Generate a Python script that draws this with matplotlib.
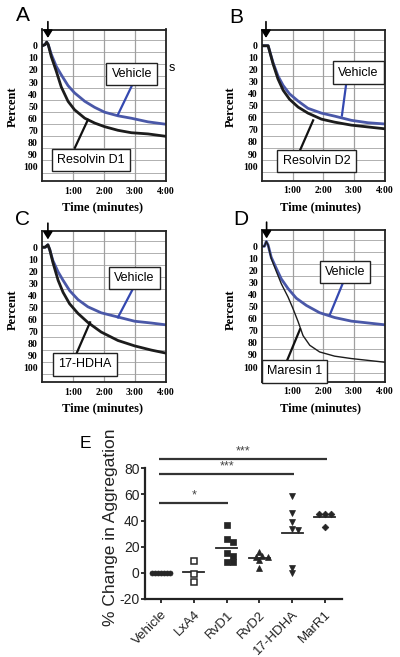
import numpy as np
import matplotlib
matplotlib.use("Agg")
import matplotlib.pyplot as plt

# ---------------- data: aggregation traces (time in minutes, percent) -------------
t_A_veh = [0.0, 0.1, 0.15, 0.2, 0.3, 0.46, 0.62, 0.84, 1.05, 1.38, 1.7, 2.02, 2.45, 2.88, 3.42, 4.0]
A_veh = [0, -1, -3, -1, 7, 17, 24, 33, 39, 46, 51, 55, 58, 60, 63, 65]
t_A_drug = [0.0, 0.1, 0.15, 0.2, 0.3, 0.46, 0.62, 0.84, 1.05, 1.38, 1.7, 2.02, 2.45, 2.88, 3.42, 4.0]
A_drug = [0, -1, -3, -1, 9, 21, 34, 46, 53, 60, 64, 67, 70, 72, 73, 75]

t_B_veh = [0.0, 0.2, 0.36, 0.52, 0.69, 0.9, 1.18, 1.5, 1.94, 2.37, 2.92, 3.46, 4.0]
B_veh = [0, 0, 14, 25, 33, 40, 46, 52, 56, 58.5, 62, 64, 65]
t_B_drug = [0.0, 0.2, 0.36, 0.52, 0.69, 0.9, 1.18, 1.5, 1.94, 2.37, 2.92, 3.46, 4.0]
B_drug = [0, 0, 15, 27.5, 37, 44.5, 51, 56, 61, 63.5, 66, 67.5, 69]

t_C_veh = [0.0, 0.1, 0.19, 0.25, 0.35, 0.52, 0.68, 0.89, 1.16, 1.48, 1.91, 2.45, 2.99, 3.53, 4.0]
C_veh = [0, 0, -2, 2, 11, 20.5, 27.5, 36, 43.5, 49.5, 54.5, 58, 61.5, 63, 64.5]
t_C_drug = [0.0, 0.1, 0.19, 0.25, 0.35, 0.52, 0.68, 0.89, 1.16, 1.48, 1.91, 2.45, 2.99, 3.53, 4.0]
C_drug = [0, 0, -2, 2, 12.5, 27.5, 37.5, 47, 55, 62.5, 70.5, 77.5, 82, 85.5, 88]

t_D_veh = [0.0, 0.08, 0.14, 0.2, 0.3, 0.47, 0.63, 0.85, 1.12, 1.45, 1.88, 2.37, 2.92, 3.46, 4.0]
D_veh = [0, 0, -4, -1, 9, 18.5, 27, 35, 43, 49, 55, 59, 62, 63.5, 65]
t_D_drug = [0.0, 0.08, 0.14, 0.2, 0.3, 0.47, 0.63, 0.85, 1.01, 1.18, 1.34, 1.56, 1.88, 2.37, 2.92, 3.46, 4.0]
D_drug = [0, 0, -4, -1, 10, 21, 31, 42, 51.5, 62.5, 74, 82, 87.5, 91, 93, 94.5, 96]

panel_letters = ["A", "B", "C", "D"]
drug_names = ["Resolvin D1", "Resolvin D2", "17-HDHA", "Maresin 1"]
ytick_vals = list(range(0, 101, 10))
xtick_vals = [1, 2, 3, 4]
xtick_labels = ["1:00", "2:00", "3:00", "4:00"]

# ---------------- data: panel E -------------
categories = ["Vehicle", "LxA4", "RvD1", "RvD2", "17-HDHA", "MarR1"]
vals_vehicle = [0, 0, 0, 0, 0, 0, 0]
vals_lxa4 = [9.3, -1.2, -6.8]
vals_rvd1 = [36.5, 25.6, 23.8, 14.9, 12.8, 8.5, 8.5]
vals_rvd2 = [16.1, 12.8, 12.5, 12.2, 9.8, 3.4]
vals_17hdha = [58.6, 45.9, 39.0, 33.4, 32.7, 3.9, 0.0]
vals_marr1 = [45.0, 45.0, 45.0, 34.7]
sig_start = [0, 0, 0]
sig_end = [5, 4, 2]
sig_y = [87.4, 75.4, 53.5]
sig_text = ["***", "***", "*"]

# ---------------- figure -------------
W, H = 400, 657
fig = plt.figure(figsize=(W / 100, H / 100), dpi=100)
fig.patch.set_facecolor("white")


def fbox(l, t, w, h):
    return [l / W, 1 - (t + h) / H, w / W, h / H]


SERIF = ["Liberation Serif", "DejaVu Serif"]
SANS = ["Liberation Sans", "DejaVu Sans"]
BLUE = "#4a58a8"
BLACK = "#1c1c1c"

boxes = [fbox(42, 29.5, 124, 151.5), fbox(262, 29.5, 122.5, 151),
         fbox(42, 231, 124, 151), fbox(262, 230, 122.5, 151.5)]
traces = [(t_A_veh, A_veh, t_A_drug, A_drug), (t_B_veh, B_veh, t_B_drug, B_drug),
          (t_C_veh, C_veh, t_C_drug, C_drug), (t_D_veh, D_veh, t_D_drug, D_drug)]
# layout (in data coords of each panel)
veh_box_xy = [(2.9, 23.2), (3.14, 22.4), (2.98, 25.5), (2.71, 21.1)]
drug_box_xy = [(1.58, 94.5), (1.78, 96.0), (1.39, 97.3), (1.06, 103.6)]
veh_ptr = [((2.9, 33), (2.45, 57)), ((2.75, 31.5), (2.61, 58)),
           ((2.94, 34.2), (2.45, 58.3)), ((2.65, 29.9), (2.22, 56.4))]
drug_ptr = [((1.06, 84.5), (1.48, 61.3)), ((1.24, 87), (1.67, 62)),
            ((1.13, 87.3), (1.55, 62.4)), ((0.82, 94.5), (1.24, 68.8))]
arrow_t = [0.19, 0.13, 0.19, 0.15]
letter_px = [(23, 15.5), (236, 17.5), (23, 219.5), (241, 219.5)]
percent_px = [(13, 107), (231, 107), (13, 310), (231, 310)]
time_px = [(102, 207), (321, 207), (102, 408), (321, 408)]
drug_lw = [2.0, 2.0, 2.0, 1.0]

for i in range(4):
    ax = fig.add_axes(boxes[i])
    tv, yv, td, yd = traces[i]
    ax.set_xlim(0, 4)
    ax.set_ylim(112, -13.5)
    for g in range(-5, 110, 10):
        ax.axhline(g, color="#b0b0b0", lw=0.7, zorder=0)
    for g in [1, 2, 3]:
        ax.axvline(g, color="#a0a0a0", lw=0.9, zorder=0)
    ax.plot(tv, yv, color=BLUE, lw=2.0, zorder=2)
    ax.plot(td, yd, color=BLACK, lw=drug_lw[i], zorder=3)
    ax.set_yticks(ytick_vals)
    ax.set_yticklabels([str(v) for v in ytick_vals], family=SERIF, weight="bold", fontsize=7)
    ax.set_xticks(xtick_vals)
    ax.set_xticklabels(xtick_labels, family=SERIF, weight="bold", fontsize=7)
    ax.tick_params(length=0, pad=3)
    ax.tick_params(axis="x", pad=4)
    for s in ax.spines.values():
        s.set_linewidth(1.3)
        s.set_color("#222222")
    # pointer lines
    (x0, y0), (x1, y1) = veh_ptr[i]
    ax.plot([x0, x1], [y0, y1], color="#3448b0", lw=1.6, zorder=5, clip_on=False)
    (x0, y0), (x1, y1) = drug_ptr[i]
    ax.plot([x0, x1], [y0, y1], color="#111111", lw=1.6, zorder=5, clip_on=False)
    bbox = dict(boxstyle="square,pad=0.42", fc="white", ec="#222222", lw=1.0)
    ax.text(*veh_box_xy[i], "Vehicle", family=SANS, fontsize=9, ha="center", va="center",
            bbox=bbox, zorder=6, clip_on=False)
    ax.text(*drug_box_xy[i], drug_names[i], family=SANS, fontsize=9, ha="center", va="center",
            bbox=bbox, zorder=6, clip_on=False)
    ax.annotate("", xy=(arrow_t[i], -6.5), xytext=(arrow_t[i], -20),
                arrowprops=dict(arrowstyle="-|>,head_width=0.28,head_length=0.45",
                                color="black", lw=1.2, shrinkA=0, shrinkB=0),
                annotation_clip=False, zorder=7)
    lx, ly = letter_px[i]
    fig.text(lx / W, 1 - ly / H, panel_letters[i], family=SANS, fontsize=15,
             ha="center", va="center")
    px, py = percent_px[i]
    fig.text(px / W, 1 - py / H, "Percent", family=SERIF, weight="bold", fontsize=9,
             rotation=90, ha="center", va="center")
    tx, ty = time_px[i]
    fig.text(tx / W, 1 - ty / H, "Time (minutes)", family=SERIF, weight="bold", fontsize=9,
             ha="center", va="center")

fig.text(172 / W, 1 - 68 / H, "s", family=SANS, fontsize=9, ha="center", va="center")

# ---------------- panel E -------------
axE = fig.add_axes(fbox(145, 452.6, 197, 146.4))
axE.set_xlim(-0.49, 5.52)
axE.set_ylim(-20, 92)
for side in ["top", "right"]:
    axE.spines[side].set_visible(False)
axE.spines["left"].set_bounds(-20, 80)
for side in ["left", "bottom"]:
    axE.spines[side].set_linewidth(1.6)
    axE.spines[side].set_color("#222222")

fig.canvas.draw()
trans = axE.transData


def swarm(vals, cat, min_px, step_px):
    pts = np.column_stack([np.full(len(vals), cat, dtype=float), np.asarray(vals, float)])
    disp = trans.transform(pts)
    xpix_per_cat = trans.transform([[1, 0]])[0, 0] - trans.transform([[0, 0]])[0, 0]
    order = np.argsort(-np.asarray(vals, float), kind="stable")
    placed = []
    xs = np.full(len(vals), float(cat))
    cands = [0] + [s * j for j in range(1, 30) for s in (1, -1)]
    for k in order:
        ypx = disp[k, 1]
        for c in cands:
            off = c * step_px
            if all(np.hypot(off - a, ypx - b) >= min_px for a, b in placed):
                break
        placed.append((off, ypx))
        xs[k] = cat + off / xpix_per_cat
    return xs


groups = [vals_vehicle, vals_lxa4, vals_rvd1, vals_rvd2, vals_17hdha, vals_marr1]
markers = ["o", "s", "s", "^", "v", "D"]
msizes = [3.6, 4.2, 4.2, 4.6, 4.6, 3.4]
faces = ["#262626", "white", "#262626", "#262626", "#262626", "#262626"]
min_d = [3.0, 5.0, 5.0, 4.5, 5.0, 5.0]
for ci, vals in enumerate(groups):
    xs = swarm(vals, ci, min_d[ci], 3.0)
    axE.plot(xs, vals, ls="none", marker=markers[ci], ms=msizes[ci], mfc=faces[ci],
             mec="#262626", mew=1.1 if faces[ci] == "white" else 0.5, zorder=3, clip_on=False)
    m = float(np.mean(vals))
    axE.plot([ci - 0.32, ci + 0.32], [m, m], color="#262626", lw=1.3, zorder=2)

for s0, s1, yy, txt in zip(sig_start, sig_end, sig_y, sig_text):
    axE.plot([s0 - 0.05, s1 + 0.05], [yy, yy], color="#333333", lw=1.6, clip_on=False,
             solid_capstyle="butt")
    axE.text((s0 + s1) / 2, yy + 1.2, txt, family=SANS, fontsize=9, color="#444444",
             ha="center", va="bottom")

axE.set_yticks([-20, 0, 20, 40, 60, 80])
axE.set_yticklabels(["-20", "0", "20", "40", "60", "80"], family=SANS, fontsize=10)
axE.set_xticks(range(len(categories)))
axE.set_xticklabels(categories, family=SANS, fontsize=9.5, rotation=45, ha="right",
                    rotation_mode="anchor")
axE.tick_params(axis="y", length=3, width=1.3, pad=1, colors="#222222")
axE.tick_params(axis="x", length=3, width=1.3, pad=4, colors="#222222")

fig.text(110 / W, 1 - 527 / H, "% Change in Aggregation", family=SANS, fontsize=12.5,
         rotation=90, ha="center", va="center", color="#222222")
fig.text(85 / W, 1 - 444 / H, "E", family=SANS, fontsize=12.5, ha="center", va="center")

fig.savefig("out.png", dpi=100)
